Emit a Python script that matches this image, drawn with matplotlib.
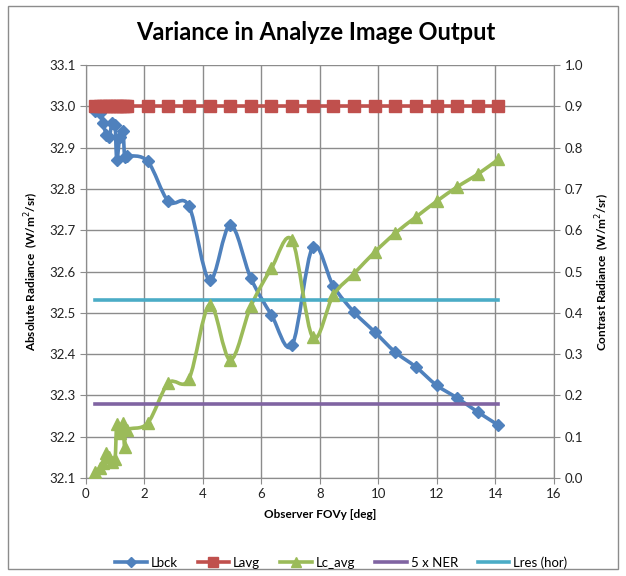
import numpy as np
import matplotlib
matplotlib.use("Agg")
from matplotlib import pyplot as plt
from matplotlib.path import Path
from matplotlib.patches import PathPatch, Rectangle
from matplotlib.lines import Line2D

plt.rcParams['font.family'] = ['Lato', 'DejaVu Sans']

# Observer FOVy [deg]
fov = [0.31, 0.5, 0.6, 0.7, 0.8, 0.9, 1.0, 1.06, 1.16, 1.27, 1.33, 1.41,
       2.115, 2.82, 3.525, 4.23, 4.935, 5.64, 6.345, 7.05, 7.755, 8.46,
       9.165, 9.87, 10.575, 11.28, 11.985, 12.69, 13.395, 14.1]
# absolute radiance (left axis)
lbck = [32.99, 32.985, 32.96, 32.93, 32.925, 32.96, 32.955, 32.87, 32.925, 32.94, 32.877, 32.88,
        32.867, 32.77, 32.759, 32.579, 32.713, 32.584, 32.495, 32.422, 32.659, 32.565,
        32.502, 32.454, 32.405, 32.369, 32.325, 32.294, 32.26, 32.228]
lavg = [33.0] * len(fov)
# contrast radiance (right axis)
lc_avg = [0.015, 0.025, 0.036, 0.06, 0.05, 0.04, 0.045, 0.13, 0.11, 0.133, 0.075, 0.116,
          0.133, 0.23, 0.24, 0.42, 0.286, 0.416, 0.508, 0.576, 0.341, 0.443,
          0.495, 0.547, 0.593, 0.632, 0.67, 0.705, 0.736, 0.772]
ner5 = 0.18
lres = 0.43

blue, red, green, purple, aqua = '#4F81BD', '#C0504D', '#9BBB59', '#8064A2', '#4BACC6'


def smooth(ax, x, y, color, lw=2.6):
    # Excel style smoothed line (Catmull-Rom through the points)
    p = np.column_stack([x, y]).astype(float)
    verts = [p[0]]
    codes = [Path.MOVETO]
    n = len(p)
    for i in range(n - 1):
        p0 = p[i - 1] if i > 0 else p[i]
        p3 = p[i + 2] if i + 2 < n else p[i + 1]
        c1 = p[i] + (p[i + 1] - p0) / 6.0
        c2 = p[i + 1] - (p3 - p[i]) / 6.0
        verts += [c1, c2, p[i + 1]]
        codes += [Path.CURVE4] * 3
    ax.add_patch(PathPatch(Path(verts, codes), fill=False, edgecolor=color, lw=lw,
                           capstyle='round', joinstyle='round'))


fig = plt.figure(figsize=(6.26, 5.76), dpi=100)
fig.patches.append(Rectangle((0.013, 0.012), 0.974, 0.978, transform=fig.transFigure,
                             fill=False, edgecolor='#8c8c8c', lw=1.0))
ax = fig.add_axes([0.137, 0.170, 0.748, 0.717])
ax2 = ax.twinx()

ax.set_xlim(0, 16)
ax.set_ylim(32.1, 33.1)
ax2.set_ylim(0, 1.0)
ax.set_xticks(np.arange(0, 17, 2))
ax.set_yticks(np.arange(32.1, 33.11, 0.1))
ax.set_yticklabels(['%.1f' % v for v in np.arange(32.1, 33.11, 0.1)])
ax2.set_yticks(np.arange(0, 1.01, 0.1))
ax2.set_yticklabels(['%.1f' % v for v in np.arange(0, 1.01, 0.1)])
ax.grid(True, color='#8c8c8c', lw=1.0)
ax.set_axisbelow(True)
for a in (ax, ax2):
    for s in a.spines.values():
        s.set_color('#8c8c8c')
    a.tick_params(colors='#8c8c8c', labelcolor='#222222', labelsize=9.5, length=4, direction='out')
ax.spines['top'].set_visible(False)
ax2.spines['top'].set_visible(False)

# Lbck
smooth(ax, fov, lbck, blue)
ax.plot(fov, lbck, ls='none', marker='D', ms=6, color=blue, zorder=4)
# Lavg
ax.plot(fov, lavg, color=red, lw=2.6, marker='s', ms=8, zorder=4)
# Lc_avg
smooth(ax2, fov, lc_avg, green)
ax2.plot(fov, lc_avg, ls='none', marker='^', ms=8, color=green, zorder=4)
# horizontal references
ax2.plot([fov[0], fov[-1]], [ner5, ner5], color=purple, lw=2.6)
ax2.plot([fov[0], fov[-1]], [lres, lres], color=aqua, lw=2.6)

ax.set_xlabel('Observer FOVy [deg]', fontsize=8.5, fontweight='bold', labelpad=6)
ax.set_ylabel('Absolute Radiance  (W/m$^2$/sr)', fontsize=8.5, fontweight='bold', labelpad=6)
ax2.set_ylabel('Contrast Radiance  (W/m$^2$/sr)', fontsize=8.5, fontweight='bold', labelpad=8)
fig.text(0.505, 0.944, 'Variance in Analyze Image Output', ha='center', va='center',
         fontsize=17, fontweight='bold')

handles = [Line2D([], [], color=blue, lw=2.6, marker='D', ms=5),
           Line2D([], [], color=red, lw=2.6, marker='s', ms=7),
           Line2D([], [], color=green, lw=2.6, marker='^', ms=7),
           Line2D([], [], color=purple, lw=2.6),
           Line2D([], [], color=aqua, lw=2.6)]
fig.legend(handles, ['Lbck', 'Lavg', 'Lc_avg', '5 x NER', 'Lres (hor)'], loc='center',
           bbox_to_anchor=(0.545, 0.023), ncol=5, frameon=False, fontsize=9.5,
           handlelength=2.4, columnspacing=1.5, handletextpad=0.3)

fig.savefig('out.png', dpi=100)
